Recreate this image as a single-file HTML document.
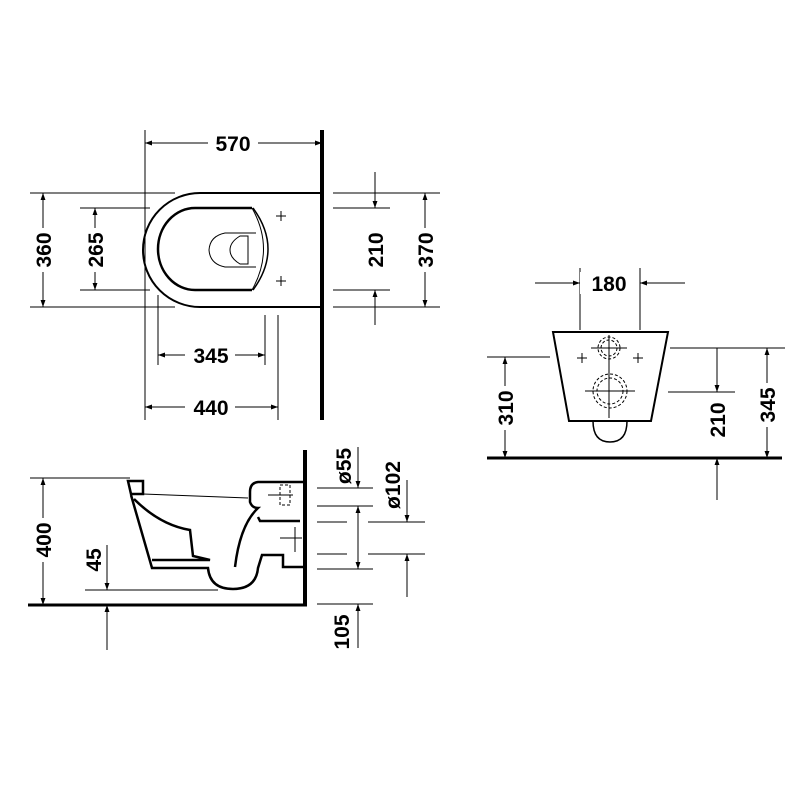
<!DOCTYPE html>
<html><head><style>body{margin:0;background:#fff}svg{display:block}text{font-family:"Liberation Sans",Arial,sans-serif;font-weight:bold;font-size:21px;fill:#000}</style></head>
<body>
<svg width="800" height="800" viewBox="0 0 800 800">
<defs><marker id="a" viewBox="0 0 10 10" refX="10" refY="5" markerWidth="7" markerHeight="9" orient="auto-start-reverse" markerUnits="userSpaceOnUse"><path d="M0,1.5 L10,5 L0,8.5 Z" fill="#000"/></marker></defs>
<g stroke="#000" fill="none" stroke-width="1">
<!-- TOP VIEW -->
<line x1="322" y1="130" x2="322" y2="420" stroke-width="4"/>
<path d="M320,193 H200 A57,57 0 0 0 200,307 H320" stroke-width="2"/>
<path d="M252,208 H195 A37,41 0 0 0 195,290 H252" stroke-width="2.5"/>
<path d="M252,208 Q275,249 252,290"/>
<path d="M253,208 Q283,249 253,290" stroke-width="1.5"/>
<path d="M256,233 H225 Q210,236 209,250 Q210,264 225,267 H256"/>
<path d="M248,236 H240 Q230,242 230,250 Q230,258 240,264 H248 Z"/>
<path d="M276,216h10M281,211v10M276,281h10M281,276v10"/>
<line x1="145" y1="130" x2="145" y2="420"/>
<line x1="158" y1="295" x2="158" y2="365"/>
<line x1="265" y1="315" x2="265" y2="365"/>
<line x1="278" y1="315" x2="278" y2="420"/>
<line x1="30" y1="193" x2="175" y2="193"/>
<line x1="30" y1="307" x2="175" y2="307"/>
<line x1="80" y1="208" x2="150" y2="208"/>
<line x1="80" y1="290" x2="150" y2="290"/>
<line x1="333" y1="193" x2="440" y2="193"/>
<line x1="333" y1="307" x2="440" y2="307"/>
<line x1="333" y1="208" x2="390" y2="208"/>
<line x1="333" y1="290" x2="390" y2="290"/>
<line x1="145" y1="143" x2="322" y2="143" marker-start="url(#a)" marker-end="url(#a)"/>
<line x1="158" y1="355" x2="265" y2="355" marker-start="url(#a)" marker-end="url(#a)"/>
<line x1="145" y1="407" x2="278" y2="407" marker-start="url(#a)" marker-end="url(#a)"/>
<line x1="43" y1="193" x2="43" y2="307" marker-start="url(#a)" marker-end="url(#a)"/>
<line x1="95" y1="208" x2="95" y2="290" marker-start="url(#a)" marker-end="url(#a)"/>
<line x1="375" y1="172" x2="375" y2="208" marker-end="url(#a)"/>
<line x1="375" y1="325" x2="375" y2="290" marker-end="url(#a)"/>
<line x1="425" y1="193" x2="425" y2="307" marker-start="url(#a)" marker-end="url(#a)"/>
<!-- FRONT VIEW -->
<line x1="487" y1="458" x2="782" y2="458" stroke-width="3"/>
<path d="M553,332 H668 L651,421 H569 Z" stroke-width="2"/>
<path d="M593,421 Q593,442 610,442 Q627,442 627,421" stroke-width="1.5"/>
<g stroke-dasharray="3,2">
<circle cx="609" cy="348" r="11"/><circle cx="609" cy="348" r="8"/>
<circle cx="610" cy="391" r="17"/><circle cx="610" cy="391" r="13"/>
</g>
<path d="M609,335v83M591,348h36M585,391h50M577,358h10M582,353v10M633,358h10M638,353v10"/>
<line x1="580" y1="268" x2="580" y2="330"/>
<line x1="640" y1="268" x2="640" y2="330"/>
<line x1="535" y1="283" x2="580" y2="283" marker-end="url(#a)"/>
<line x1="685" y1="283" x2="640" y2="283" marker-end="url(#a)"/>
<line x1="487" y1="357" x2="550" y2="357"/>
<line x1="505" y1="357" x2="505" y2="458" marker-start="url(#a)" marker-end="url(#a)"/>
<line x1="668" y1="392" x2="735" y2="392"/>
<line x1="717" y1="348" x2="717" y2="392" marker-end="url(#a)"/>
<line x1="717" y1="500" x2="717" y2="458" marker-end="url(#a)"/>
<line x1="670" y1="348" x2="785" y2="348"/>
<line x1="767" y1="348" x2="767" y2="458" marker-start="url(#a)" marker-end="url(#a)"/>
<!-- SIDE VIEW -->
<line x1="305" y1="450" x2="305" y2="606" stroke-width="4"/>
<line x1="28" y1="605" x2="307" y2="605" stroke-width="3"/>
<g stroke-width="2.5">
<path d="M128,481 H143 V494 H131 Z"/>
<path d="M131,495 L152,568 H208 Q210,589 233,589 Q256,589 258,568 L262,555 H283 V567 H305"/>
<path d="M305,482 H258 Q250,483 250,492 V502 Q252,508 258,508 Q240,525 235,567"/>
<path d="M258,517 L260,521 H300"/>
<path d="M134,499 Q160,525 190,530 L193,556 L210,560 H152"/>
</g>
<path d="M143,494 L248,498"/>
<path d="M280,485h10v20h-10z" stroke-dasharray="3,2"/>
<path d="M268,495h25M280,538h22M295,527v25"/>
<line x1="30" y1="478" x2="130" y2="478"/>
<line x1="43" y1="478" x2="43" y2="605" marker-start="url(#a)" marker-end="url(#a)"/>
<line x1="85" y1="590" x2="218" y2="590"/>
<line x1="107" y1="545" x2="107" y2="590" marker-end="url(#a)"/>
<line x1="107" y1="650" x2="107" y2="605" marker-end="url(#a)"/>
<line x1="317" y1="488" x2="373" y2="488"/>
<line x1="317" y1="506" x2="373" y2="506"/>
<line x1="317" y1="522" x2="347" y2="522"/><line x1="368" y1="522" x2="425" y2="522"/>
<line x1="317" y1="554" x2="347" y2="554"/><line x1="368" y1="554" x2="425" y2="554"/>
<line x1="317" y1="569" x2="373" y2="569"/>
<line x1="317" y1="604" x2="373" y2="604"/>
<line x1="358" y1="447" x2="358" y2="488" marker-end="url(#a)"/>
<line x1="358" y1="506" x2="358" y2="569" marker-start="url(#a)" marker-end="url(#a)"/>
<line x1="407" y1="480" x2="407" y2="522" marker-end="url(#a)"/>
<line x1="407" y1="597" x2="407" y2="554" marker-end="url(#a)"/>
<line x1="358" y1="648" x2="358" y2="604" marker-end="url(#a)"/>
</g>
<g>
<rect x="208" y="132" width="50" height="22" fill="#fff"/><text x="233" y="151" text-anchor="middle">570</text>
<rect x="185" y="344" width="50" height="22" fill="#fff"/><text x="211" y="363" text-anchor="middle">345</text>
<rect x="185" y="396" width="50" height="22" fill="#fff"/><text x="211" y="415" text-anchor="middle">440</text>
<rect x="580" y="272" width="58" height="22" fill="#fff"/><text x="609" y="291" text-anchor="middle">180</text>
<rect x="32" y="228" width="22" height="44" fill="#fff"/><text transform="translate(51,250) rotate(-90)" text-anchor="middle">360</text>
<rect x="84" y="228" width="22" height="44" fill="#fff"/><text transform="translate(103,250) rotate(-90)" text-anchor="middle">265</text>
<text transform="translate(383,250) rotate(-90)" text-anchor="middle">210</text>
<rect x="414" y="228" width="22" height="44" fill="#fff"/><text transform="translate(433,250) rotate(-90)" text-anchor="middle">370</text>
<rect x="494" y="386" width="22" height="44" fill="#fff"/><text transform="translate(513,408) rotate(-90)" text-anchor="middle">310</text>
<text transform="translate(725,420) rotate(-90)" text-anchor="middle">210</text>
<rect x="756" y="383" width="22" height="44" fill="#fff"/><text transform="translate(775,405) rotate(-90)" text-anchor="middle">345</text>
<rect x="32" y="518" width="22" height="44" fill="#fff"/><text transform="translate(51,540) rotate(-90)" text-anchor="middle">400</text>
<text transform="translate(101,560) rotate(-90)" text-anchor="middle">45</text>
<text transform="translate(351,466) rotate(-90)" text-anchor="middle">ø55</text>
<text transform="translate(400,485) rotate(-90)" text-anchor="middle">ø102</text>
<text transform="translate(349,632) rotate(-90)" text-anchor="middle">105</text>
</g>
</svg>
</body></html>
